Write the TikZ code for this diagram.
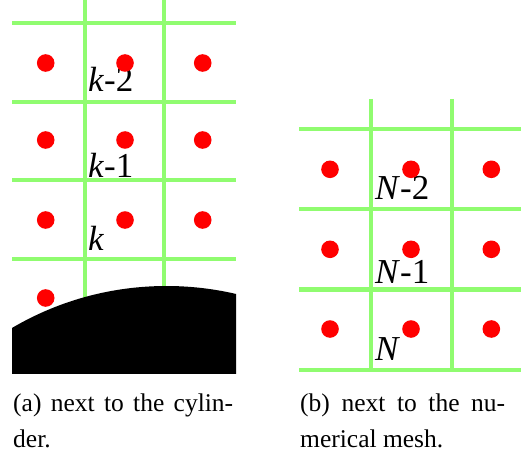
\documentclass[tikz,border=0pt]{standalone}
\usepackage{fontspec}
\setmainfont{Liberation Serif}
\definecolor{meshgreen}{RGB}{144,252,112}
\tikzset{
	mesh/.style = {draw = meshgreen, line width = 4.4pt},
	cellpt/.style = {fill = red},
	idx/.style = {anchor = base west, inner sep = 0pt, font = \fontsize{35}{40}\selectfont},
	capt/.style = {anchor = base west, inner sep = 0pt, font = \fontsize{25.5}{30}\selectfont}
}
\begin{document}
\begin{tikzpicture}[x = 1pt, y = -1pt]
	\useasboundingbox (0,0) rectangle (521,465);
	% (a) mesh next to the cylinder
	\draw [mesh] (12,23) -- (236,23);
	\draw [mesh] (12,102) -- (236,102);
	\draw [mesh] (12,180) -- (236,180);
	\draw [mesh] (12,259) -- (236,259);
	\draw [mesh] (85,0) -- (85,305);
	\draw [mesh] (164,0) -- (164,295);
	\begin{scope}
		\clip (12,250) rectangle (236,373);
		\fill [black] (166.5,591) circle (305);
	\end{scope}
	\node [idx] (km2) at (88,92) {\textit{k}-2};
	\node [idx] (km1) at (88,177) {\textit{k}-1};
	\node [idx] (k) at (88,250) {\textit{k}};
	\foreach \y in {63,140,220}
		\foreach \x in {45.7,125,202.7}
			\fill [cellpt] (\x,\y) circle (8.8);
	\fill [cellpt] (45.7,298) circle (8.8);
	% (b) mesh next to the outer boundary
	\draw [mesh] (299,129.3) -- (521,129.3);
	\draw [mesh] (299,209) -- (521,209);
	\draw [mesh] (299,289.3) -- (521,289.3);
	\draw [mesh] (299,370) -- (521,370);
	\draw [mesh] (371,99) -- (371,370);
	\draw [mesh] (451.7,99) -- (451.7,370);
	\node [idx] (nm2) at (375,199.3) {\textit{N}-2};
	\node [idx] (nm1) at (375,283.3) {\textit{N}-1};
	\node [idx] (n) at (375,360) {\textit{N}};
	\foreach \y in {169.3,249.3,329}
		\foreach \x in {330,411,491.3}
			\fill [cellpt] (\x,\y) circle (8.8);
	% captions
	\node [capt] (capa1) at (13,411) {\makebox[220pt][s]{(a) next to the cylin-}};
	\node [capt] (capa2) at (13,447) {der.};
	\node [capt] (capb1) at (300,411) {\makebox[205pt][s]{(b) next to the nu-}};
	\node [capt] (capb2) at (300,447) {merical mesh.};
\end{tikzpicture}
\end{document}
